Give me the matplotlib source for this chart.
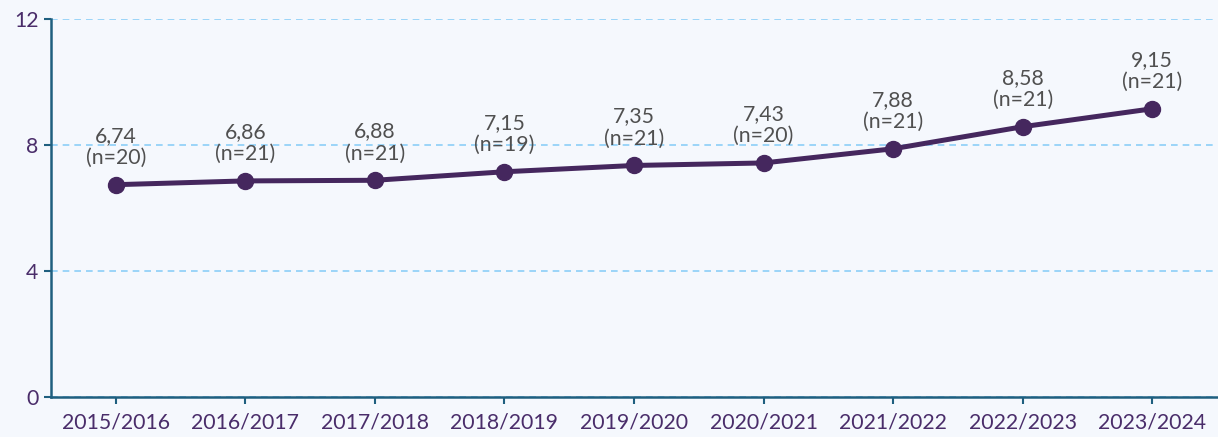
import matplotlib
matplotlib.use("Agg")
import matplotlib.pyplot as plt

categories = ["2015/2016", "2016/2017", "2017/2018", "2018/2019", "2019/2020",
              "2020/2021", "2021/2022", "2022/2023", "2023/2024"]
values = [6.74, 6.86, 6.88, 7.15, 7.35, 7.43, 7.88, 8.58, 9.15]
counts = [20, 21, 21, 19, 21, 20, 21, 21, 21]
yticks = [0, 4, 8, 12]

plt.rcParams['font.family'] = ['Lato', 'DejaVu Sans']
bg = '#f5f8fd'
fig = plt.figure(figsize=(12.18, 4.37), dpi=100, facecolor=bg)
ax = fig.add_axes([51/1218, 1 - 397/437, 1166/1218, 378/437])
ax.set_facecolor(bg)

x = list(range(len(categories)))
ax.plot(x, values, color='#45275e', lw=3.6, marker='o', ms=11.5, zorder=3, solid_capstyle='round')
for xi, v, n in zip(x, values, counts):
    ax.annotate(f"{v:.2f}".replace('.', ',') + f"\n(n={n})", (xi, v), xytext=(0, 12),
                textcoords='offset points', ha='center', va='bottom', fontsize=15.3,
                color='#505050', linespacing=1.15)

ax.set_xlim(-0.5, len(categories) - 0.5)
ax.set_ylim(0, 12)
ax.set_xticks(x)
ax.set_xticklabels(categories)
ax.set_yticks(yticks)
ax.tick_params(axis='both', colors='#1f5f7f', labelcolor='#4a2d6a', labelsize=15.3, length=5, width=1.5)
ax.tick_params(axis='x', pad=6)
ax.tick_params(axis='y', pad=4)
ax.grid(axis='y', color='#8ccff8', linestyle=(0, (4, 3)), lw=1.2)
ax.set_axisbelow(True)
for s in ['top', 'right']:
    ax.spines[s].set_visible(False)
for s in ['left', 'bottom']:
    ax.spines[s].set_color('#1f5f7f')
    ax.spines[s].set_linewidth(1.8)

fig.savefig('out.png', dpi=100, facecolor=bg)
